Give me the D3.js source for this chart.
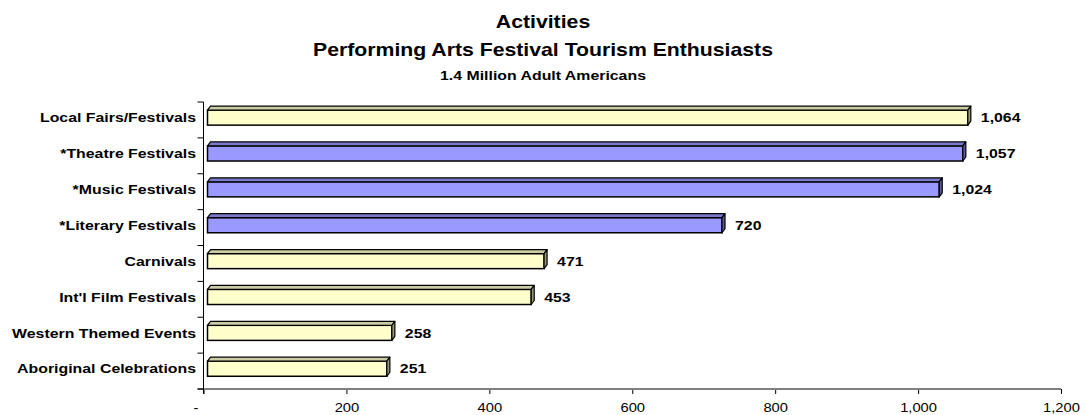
<!DOCTYPE html>
<html>
<head>
<meta charset="utf-8">
<script src="https://cdn.jsdelivr.net/npm/d3@7"></script>
<style>
  body { margin: 0; background: #fff; }
  text { font-family: "Liberation Sans", Arial, sans-serif; }
</style>
</head>
<body>
<script>

const w = 1086;
const h = 415;

// data
const categories = ["Local Fairs/Festivals", "*Theatre Festivals", "*Music Festivals", "*Literary Festivals",
    "Carnivals", "Int'l Film Festivals", "Western Themed Events", "Aboriginal Celebrations"];
const values = [1064, 1057, 1024, 720, 471, 453, 258, 251];
const xTicks = [0, 200, 400, 600, 800, 1000, 1200];
const titleLines = ["Activities", "Performing Arts Festival Tourism Enthusiasts", "1.4 Million Adult Americans"];

const stretch = 1.22;   // the picture's text is a bit wide
const depthX = 3, depthY = 4;

let svg = d3.select("body")
    .append("svg")
    .attr("width", w)
    .attr("height", h)

let x = d3.scaleLinear().domain([0, 1200]).range([203.5, 1061]);
let y = d3.scaleBand().domain(categories).range([102, 389]);

const fmt = d3.format(",");

// titles
const titleY = [28, 55.5, 80];
const titleSize = [18, 18, 13];
const titleStretch = [1.18, 1.18, 1.22];
titleLines.forEach(function (t, i) {
    svg.append("text")
        .attr("transform", "translate(543," + titleY[i] + ") scale(" + titleStretch[i] + ",1)")
        .attr("text-anchor", "middle")
        .attr("font-weight", "bold")
        .attr("font-size", titleSize[i])
        .text(t);
});

// x axis
let xAxis = svg.append("g")
    .attr("transform", "translate(0,389)")
    .call(d3.axisBottom(x).tickValues(xTicks).tickSize(5).tickSizeOuter(0).tickPadding(9)
        .tickFormat(d => d === 0 ? "-" : fmt(d)));
xAxis.select(".domain").remove();
xAxis.selectAll(".tick line").attr("stroke", "#000");
xAxis.selectAll(".tick text")
    .attr("font-family", "'Liberation Sans', Arial, sans-serif")
    .attr("font-size", 12.5)
    .attr("fill", "#000")
    .attr("transform", d => d === 0 ? "translate(-8,0) scale(1.18,1)" : "scale(1.18,1)");
svg.append("line")
    .attr("x1", x(0) - 6).attr("x2", x(1200))
    .attr("y1", 389).attr("y2", 389)
    .attr("stroke", "#808080").attr("stroke-width", 2);

// y axis
svg.append("line")
    .attr("x1", x(0)).attr("x2", x(0))
    .attr("y1", y.range()[0]).attr("y2", y.range()[1] + 5)
    .attr("stroke", "#000").attr("stroke-width", 1);
let bounds = categories.map(c => y(c)).concat([y.range()[1]]);
svg.selectAll(".ytick")
    .data(bounds)
    .enter()
    .append("line")
    .attr("x1", x(0) - 6).attr("x2", x(0))
    .attr("y1", d => d).attr("y2", d => d)
    .attr("stroke", "#000");

const bw = y.bandwidth();
const frontTop = c => y(c) + bw * 0.225;
const frontH = bw * 0.42;
const x0 = x(0) + 4;

let bars = svg.append("g")
    .selectAll("g")
    .data(categories.map((c, i) => ({ name: c, value: values[i], hi: c.startsWith("*") })))
    .enter()
    .append("g");

// front face
bars.append("rect")
    .attr("x", x0)
    .attr("y", d => frontTop(d.name))
    .attr("width", d => x(d.value) - x(0))
    .attr("height", frontH)
    .attr("fill", d => d.hi ? "#9999ff" : "#ffffcc")
    .attr("stroke", "#000")
    .attr("stroke-width", 1.5);

// top face
bars.append("polygon")
    .attr("points", function (d) {
        let t = frontTop(d.name), xe = x(d.value) + 4;
        return [[x0, t], [x0 + depthX, t - depthY], [xe + depthX, t - depthY], [xe, t]].join(" ");
    })
    .attr("fill", d => d.hi ? "#7a7acc" : "#cccca3")
    .attr("stroke", "#000")
    .attr("stroke-width", 1.2)
    .attr("stroke-linejoin", "round");

// side face
bars.append("polygon")
    .attr("points", function (d) {
        let t = frontTop(d.name), xe = x(d.value) + 4;
        return [[xe, t], [xe + depthX, t - depthY], [xe + depthX, t + frontH - depthY], [xe, t + frontH]].join(" ");
    })
    .attr("fill", d => d.hi ? "#5c5c99" : "#99997a")
    .attr("stroke", "#000")
    .attr("stroke-width", 1.2)
    .attr("stroke-linejoin", "round");

// value labels
bars.append("text")
    .attr("transform", d => "translate(" + (x(d.value) + 4 + depthX + 10) + "," + (frontTop(d.name) + frontH / 2) + ") scale(" + stretch + ",1)")
    .attr("dy", "0.36em")
    .attr("font-weight", "bold")
    .attr("font-size", 13)
    .text(d => fmt(d.value));

// category labels
bars.append("text")
    .attr("transform", d => "translate(196," + (frontTop(d.name) + frontH / 2) + ") scale(" + stretch + ",1)")
    .attr("dy", "0.36em")
    .attr("text-anchor", "end")
    .attr("font-weight", "bold")
    .attr("font-size", 13)
    .text(d => d.name);

</script>
</body>
</html>
